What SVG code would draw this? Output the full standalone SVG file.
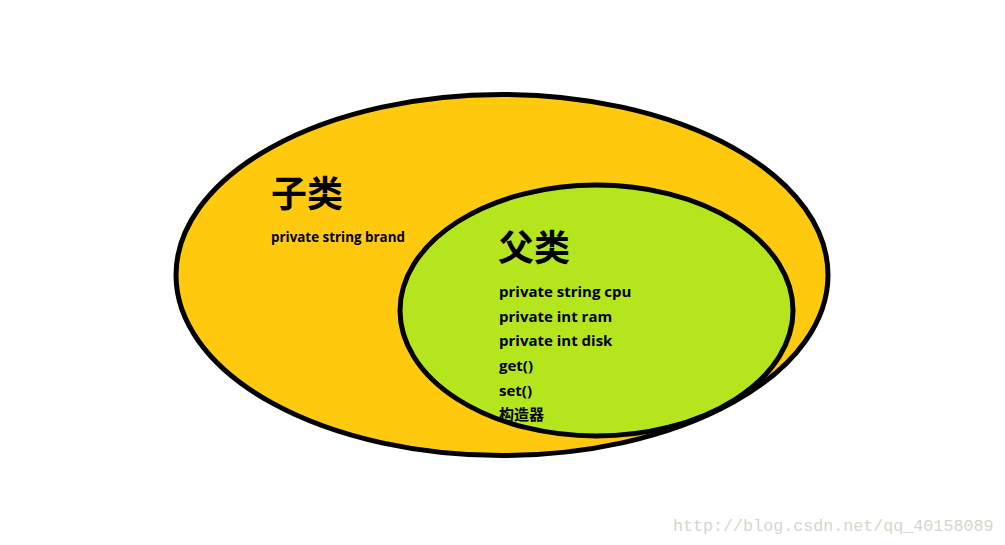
<svg xmlns="http://www.w3.org/2000/svg" width="1005" height="545" viewBox="0 0 1005 545">
<style>
.sh{stroke:#000;stroke-width:5}
.t{font-family:"Open Sans","Noto Sans CJK SC",sans-serif;font-weight:bold;fill:#000}
.h{font-family:"Noto Sans CJK SC",sans-serif;font-weight:bold;fill:#000}
.m{font-size:15px}
</style>
<rect width="1005" height="545" fill="#fff"/>
<g id="child">
<ellipse class="sh" cx="502" cy="275" rx="326" ry="180.5" fill="#FFC90E"/>
<text class="h" x="271" y="207" font-size="36">子类</text>
<text class="t" x="271" y="242" font-size="13.4">private string brand</text>
</g>
<g id="parent">
<ellipse class="sh" cx="596.5" cy="310.5" rx="196.5" ry="125.5" fill="#B5E61D"/>
<text class="h" x="498" y="261" font-size="36">父类</text>
<text class="t m" x="499" y="297">private string cpu</text>
<text class="t m" x="499" y="322">private int ram</text>
<text class="t m" x="499" y="346">private int disk</text>
<text class="t m" x="499" y="371">get()</text>
<text class="t m" x="499" y="396">set()</text>
<text class="t m" x="499" y="420">构造器</text>
</g>
<g id="connectors"/>
<text x="673" y="531" font-family="Liberation Mono,monospace" font-size="16.7" fill="#d6d5ce">http://blog.csdn.net/qq_40158089</text>
</svg>
